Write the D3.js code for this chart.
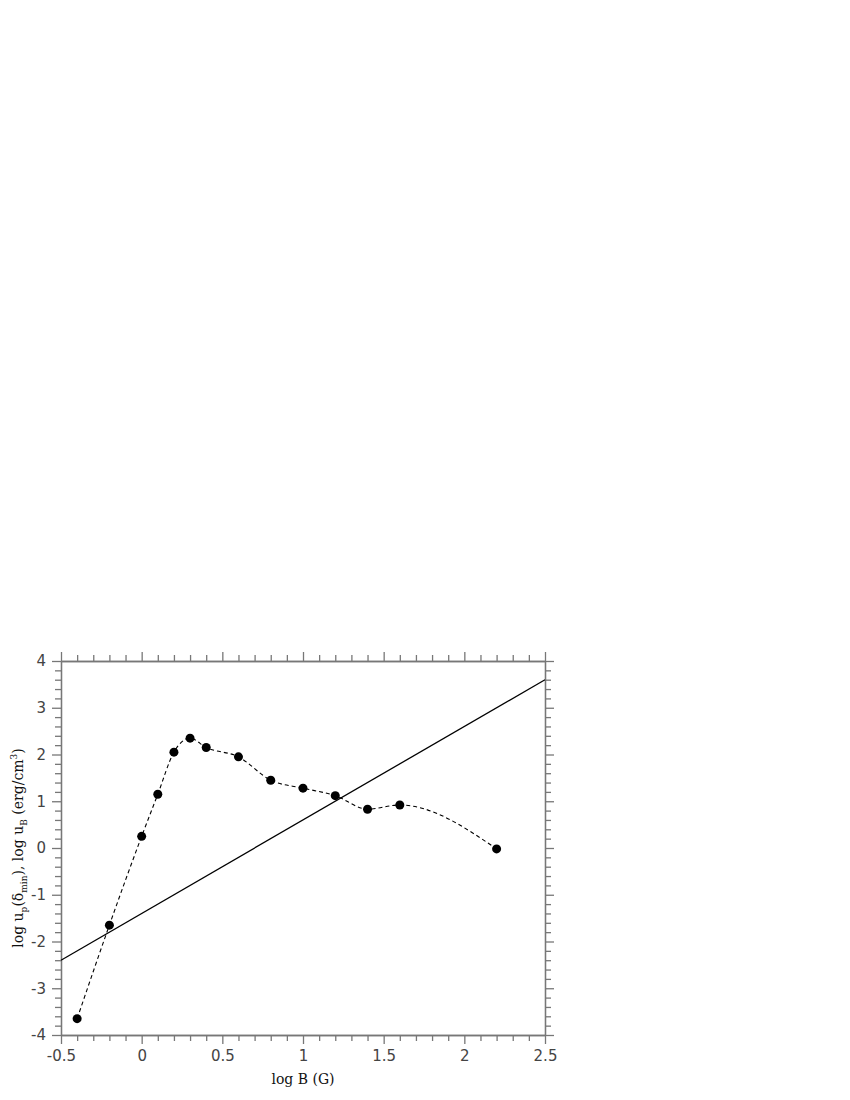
<!DOCTYPE html>
<html><head><meta charset="utf-8">
<script src="https://cdn.jsdelivr.net/npm/d3@7"></script>
<style>body{margin:0;background:#fff}</style>
</head><body>
<svg id="c" width="850" height="1100"></svg>
<script>
const pointsX = [-0.4, -0.2, 0, 0.1, 0.2, 0.3, 0.4, 0.6, 0.8, 1.0, 1.2, 1.4, 1.6, 2.2];
const pointsY = [-3.65, -1.65, 0.25, 1.15, 2.05, 2.35, 2.15, 1.95, 1.45, 1.28, 1.12, 0.83, 0.92, -0.02];
const lineX = [-0.5, 2.5];
const lineY = [-2.4, 3.6];
const xTicks = [-0.5, 0, 0.5, 1, 1.5, 2, 2.5];
const yTicks = [-4, -3, -2, -1, 0, 1, 2, 3, 4];

const svg = d3.select("#c");
const L = 61, R = 545, T = 661, B = 1035;
const x = d3.scaleLinear().domain([-0.5, 2.5]).range([L, R]);
const y = d3.scaleLinear().domain([-4, 4]).range([B, T]);
const axisColor = "#777";
const labColor = "#444";
const fmt = d => String(d);

const xMinor = d3.range(-5, 26).map(d => d / 10).filter(d => Math.abs(d*2 - Math.round(d*2)) > 1e-6);
const yMinor = d3.range(-20, 21).map(d => d / 5).filter(d => Math.abs(d - Math.round(d)) > 1e-6);

function styleAxis(g){
  g.selectAll("path,line").attr("stroke", axisColor).attr("stroke-width", 1.3);
  g.selectAll("text").attr("fill", labColor).style("font-family", "DejaVu Sans, sans-serif").style("font-size", "15px");
}
// bottom
svg.append("g").attr("transform", `translate(0,${B})`)
  .call(d3.axisBottom(x).tickValues(xMinor).tickSize(6).tickFormat("").tickSizeOuter(0)).call(styleAxis);
svg.append("g").attr("transform", `translate(0,${B})`)
  .call(d3.axisBottom(x).tickValues(xTicks).tickSize(9).tickPadding(6).tickSizeOuter(0).tickFormat(fmt)).call(styleAxis);
// top
svg.append("g").attr("transform", `translate(0,${T})`)
  .call(d3.axisTop(x).tickValues(xMinor).tickSize(6).tickFormat("").tickSizeOuter(0)).call(styleAxis);
svg.append("g").attr("transform", `translate(0,${T})`)
  .call(d3.axisTop(x).tickValues(xTicks).tickSize(9).tickFormat("").tickSizeOuter(0)).call(styleAxis);
// left
svg.append("g").attr("transform", `translate(${L},0)`)
  .call(d3.axisLeft(y).tickValues(yMinor).tickSize(6).tickFormat("").tickSizeOuter(0)).call(styleAxis);
svg.append("g").attr("transform", `translate(${L},0)`)
  .call(d3.axisLeft(y).tickValues(yTicks).tickSize(9).tickPadding(6).tickSizeOuter(0).tickFormat(fmt)).call(styleAxis);
// right
svg.append("g").attr("transform", `translate(${R},0)`)
  .call(d3.axisRight(y).tickValues(yMinor).tickSize(6).tickFormat("").tickSizeOuter(0)).call(styleAxis);
svg.append("g").attr("transform", `translate(${R},0)`)
  .call(d3.axisRight(y).tickValues(yTicks).tickSize(9).tickFormat("").tickSizeOuter(0)).call(styleAxis);

// solid line
const lineData = lineX.map((v, i) => [v, lineY[i]]);
svg.append("path").datum(lineData)
  .attr("d", d3.line().x(d => x(d[0])).y(d => y(d[1])))
  .attr("fill", "none").attr("stroke", "#000").attr("stroke-width", 1.3);

// dashed curve
const pts = pointsX.map((v, i) => [v, pointsY[i]]);
svg.append("path").datum(pts)
  .attr("d", d3.line().x(d => x(d[0])).y(d => y(d[1])).curve(d3.curveMonotoneX))
  .attr("fill", "none").attr("stroke", "#000").attr("stroke-width", 1.1).attr("stroke-dasharray", "4,3");
svg.append("g").selectAll("circle").data(pts).join("circle")
  .attr("cx", d => x(d[0])).attr("cy", d => y(d[1])).attr("r", 4.5).attr("fill", "#000");

// axis titles
const serif = "DejaVu Serif, serif";
svg.append("text").attr("x", (L + R) / 2).attr("y", 1084).attr("text-anchor", "middle")
  .style("font-family", serif).style("font-size", "14px").attr("fill", "#111").text("log B (G)");
const yt = svg.append("text").attr("transform", `translate(23,${(T + B) / 2}) rotate(-90)`)
  .attr("text-anchor", "middle").style("font-family", serif).style("font-size", "14px").attr("fill", "#111");
yt.append("tspan").text("log u");
yt.append("tspan").attr("dy", 4).style("font-size", "9px").text("p");
yt.append("tspan").attr("dy", -4).text("(δ");
yt.append("tspan").attr("dy", 4).style("font-size", "9px").text("min");
yt.append("tspan").attr("dy", -4).text("), log u");
yt.append("tspan").attr("dy", 4).style("font-size", "9px").text("B");
yt.append("tspan").attr("dy", -4).text(" (erg/cm");
yt.append("tspan").attr("dy", -6).style("font-size", "9px").text("3");
yt.append("tspan").attr("dy", 6).text(")");
</script>
</body></html>
